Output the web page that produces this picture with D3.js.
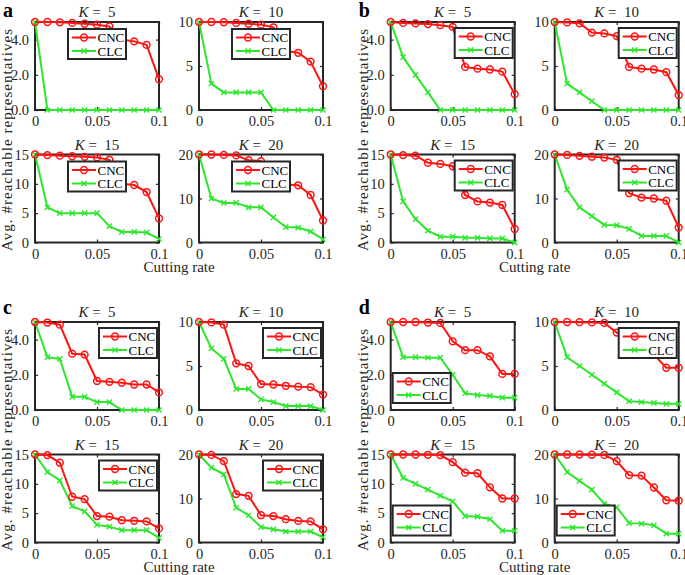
<!DOCTYPE html>
<html>
<head>
<meta charset="utf-8">
<script src="https://cdn.jsdelivr.net/npm/d3@7"></script>
<style>
  body { margin: 0; background: #fff; }
  text { font-family: "Liberation Serif", "Times New Roman", serif; fill: #262626; }
</style>
</head>
<body>
<div id="node"></div>
<script>
// x values shared by every subplot
const cutRate = [0, 0.01, 0.02, 0.03, 0.04, 0.05, 0.06, 0.07, 0.08, 0.09, 0.1];
const kValues = [5, 10, 15, 20];
const panelNames = ["a", "b", "c", "d"];
const seriesNames = ["CNC", "CLC"];

const xTicks = [0, 0.05, 0.1];
const xTickLabels = ["0", "0.05", "0.1"];
const yTicks5 = [0, 2, 4];
const yTicks10 = [0, 5, 10];
const yTicks15 = [0, 5, 10, 15];
const yTicks20 = [0, 10, 20];

// one row per K (5, 10, 15, 20)
const cncA = [
  [5, 5, 4.98, 4.95, 4.9, 4.85, 4.75, 4.0, 3.9, 3.7, 1.75],
  [10, 10, 9.97, 9.9, 9.8, 9.7, 9.4, 6.7, 6.5, 5.5, 2.7],
  [15, 14.9, 14.8, 14.7, 14.6, 14.5, 14.1, 10.0, 9.8, 8.6, 4.1],
  [20, 20, 19.9, 19.8, 18.7, 18.5, 16.0, 13.2, 13, 10.8, 5]
];
const clcA = [
  [5, 0, 0, 0, 0, 0, 0, 0, 0, 0, 0],
  [10, 3, 2, 2, 2, 2, 0, 0, 0, 0, 0],
  [15, 6, 5, 5, 5, 5, 2.8, 1.8, 1.8, 1.7, 0.6],
  [20, 10, 9, 9, 8, 8, 5.7, 3.5, 3.4, 2.5, 0.7]
];
const cncB = [
  [5, 4.95, 4.92, 4.88, 4.82, 4.72, 2.45, 2.35, 2.3, 2.18, 0.9],
  [10, 9.95, 9.85, 8.8, 8.7, 8.4, 4.9, 4.7, 4.6, 4.3, 1.7],
  [15, 14.9, 14.8, 13.6, 13.4, 13.0, 8.1, 7.0, 6.8, 6.4, 2.3],
  [20, 19.9, 19.7, 19.5, 19.3, 18.8, 11.2, 10.2, 10, 9.5, 3.4]
];
const clcB = [
  [5, 3, 2, 1, 0, 0, 0, 0, 0, 0, 0],
  [10, 3, 2, 1, 0, 0, 0, 0, 0, 0, 0],
  [15, 7, 4, 2, 1, 1, 0.8, 0.8, 0.7, 0.7, 0],
  [20, 12, 8, 6, 4, 3.9, 3.1, 1.5, 1.5, 1.5, 0]
];
const cncC = [
  [5, 4.97, 4.85, 3.2, 3.15, 1.65, 1.6, 1.55, 1.45, 1.45, 1.0],
  [10, 9.95, 9.7, 5.3, 5.0, 2.95, 2.9, 2.75, 2.65, 2.6, 1.75],
  [15, 14.9, 13.6, 7.8, 7.4, 4.5, 4.4, 3.8, 3.7, 3.6, 2.4],
  [20, 19.9, 18.5, 11, 10.6, 6.2, 6.0, 5.3, 4.9, 4.8, 3.0]
];
const clcC = [
  [5, 3, 2.9, 0.75, 0.75, 0.45, 0.45, 0, 0, 0, 0],
  [10, 7, 5.8, 2.4, 2.4, 1.2, 0.9, 0.45, 0.45, 0.45, 0],
  [15, 12, 10.6, 6.2, 5.3, 3.0, 2.7, 2.1, 2.1, 2.1, 0.8],
  [20, 17, 15.5, 7.9, 6.2, 3.5, 3.0, 2.5, 2.5, 2.5, 1.2]
];
const cncD = [
  [5, 5, 5, 4.97, 4.95, 3.9, 3.4, 3.4, 3.05, 2.05, 2.05],
  [10, 10, 9.98, 9.95, 9.9, 8.8, 8.3, 8.0, 6.3, 4.8, 4.8],
  [15, 15, 15, 14.95, 14.9, 13.7, 11.9, 11.8, 9.4, 7.5, 7.5],
  [20, 20, 20, 19.95, 19.9, 18.5, 15.3, 15.2, 12.5, 9.6, 9.5]
];
const clcD = [
  [5, 3, 3, 2.97, 2.97, 2.0, 0.95, 0.85, 0.8, 0.7, 0.7],
  [10, 6, 5, 4, 3, 2, 1, 0.9, 0.8, 0.7, 0.7],
  [15, 11, 10, 9, 8, 7, 4.5, 4.4, 4, 2, 2],
  [20, 16, 14, 12, 8.8, 8, 4.4, 4.3, 3.9, 2, 2]
];

const cncAll = [cncA, cncB, cncC, cncD];
const clcAll = [clcA, clcB, clcC, clcD];
const yTicksAll = [yTicks5, yTicks10, yTicks15, yTicks20];

// layout
const width = 685, height = 575;
const plotW = 124, plotH = 88;
const panelOrigin = [{x: 35, y: 22}, {x: 390.7, y: 22}, {x: 35, y: 322}, {x: 390.7, y: 322}];
const subDx = 164, subDy = 132.5;
const red = "#ff1414", green = "#2ee62e", axisColor = "#262626";

// legend placement per panel / subplot
function legendPos(p, k) {
  if (p === 0) return {x: 33, y: 7};
  if (p === 3 && k !== 1) return {x: 2, y: 51};
  return {x: 64, y: 6};
}

var svg = d3.select("#node")
  .append("svg")
  .attr("width", width)
  .attr("height", height);

svg.append("rect").attr("width", width).attr("height", height).attr("fill", "#fff");

var x = d3.scaleLinear().domain([0, 0.1]).range([0, plotW]);

function drawX(g, cx, cy, s) {
  g.append("path")
    .attr("d", `M${cx - s},${cy - s}L${cx + s},${cy + s}M${cx - s},${cy + s}L${cx + s},${cy - s}`)
    .attr("stroke", green).attr("stroke-width", 1.4);
}

panelNames.forEach((name, p) => {
  const o = panelOrigin[p];

  // panel letter
  svg.append("text")
    .attr("x", o.x - 32)
    .attr("y", o.y - (p < 2 ? 5 : 8))
    .attr("font-size", 20)
    .attr("font-weight", "bold")
    .style("fill", "#000")
    .text(name);

  // y label
  svg.append("text")
    .attr("transform", `translate(${o.x - 23},${o.y + 118}) rotate(-90)`)
    .attr("text-anchor", "middle")
    .attr("font-size", 15)
    .attr("textLength", 222)
    .attr("lengthAdjust", "spacing")
    .text("Avg. #reachable representatives");

  // x label
  svg.append("text")
    .attr("x", o.x + (subDx + plotW) / 2)
    .attr("y", o.y + subDy + plotH + 29)
    .attr("text-anchor", "middle")
    .attr("font-size", 15)
    .text("Cutting rate");

  kValues.forEach((K, k) => {
    const gx = o.x + (k % 2) * subDx;
    const gy = o.y + Math.floor(k / 2) * subDy;
    var g = svg.append("g").attr("transform", `translate(${gx},${gy})`);

    var y = d3.scaleLinear().domain([0, K]).range([plotH, 0]);

    // title
    var title = g.append("text")
      .attr("x", plotW / 2)
      .attr("y", -5)
      .attr("text-anchor", "middle")
      .attr("font-size", 15)
      .style("white-space", "pre");
    title.append("tspan").attr("font-style", "italic").text("K");
    title.append("tspan").text(" =  " + K);

    // axes with inner ticks, mirrored on the opposite sides
    g.append("g").attr("transform", `translate(0,${plotH})`)
      .call(d3.axisBottom(x).tickValues(xTicks).tickSize(-3).tickPadding(6)
        .tickFormat((d, i) => xTickLabels[i]));
    g.append("g")
      .call(d3.axisTop(x).tickValues(xTicks).tickSize(-3).tickFormat(""));
    g.append("g")
      .call(d3.axisLeft(y).tickValues(yTicksAll[k]).tickSize(-3).tickPadding(6));
    g.append("g").attr("transform", `translate(${plotW},0)`)
      .call(d3.axisRight(y).tickValues(yTicksAll[k]).tickSize(-3).tickFormat(""));
    g.selectAll(".domain").remove();
    g.selectAll(".tick line").attr("stroke", axisColor).attr("stroke-width", 1.2);
    g.selectAll(".tick text")
      .attr("font-family", "Liberation Serif, serif")
      .attr("font-size", 14.5)
      .attr("fill", axisColor);

    g.append("rect")
      .attr("width", plotW).attr("height", plotH)
      .attr("fill", "none")
      .attr("stroke", axisColor)
      .attr("stroke-width", 2);

    const line = d3.line().x((d, i) => x(cutRate[i])).y(d => y(d));

    // CLC
    const clc = clcAll[p][k];
    g.append("path").datum(clc)
      .attr("d", line)
      .attr("fill", "none").attr("stroke", green).attr("stroke-width", 2);
    clc.forEach((v, i) => drawX(g, x(cutRate[i]), y(v), 2.6));

    // CNC
    const cnc = cncAll[p][k];
    g.append("path").datum(cnc)
      .attr("d", line)
      .attr("fill", "none").attr("stroke", red).attr("stroke-width", 2);
    g.selectAll(".cnc").data(cnc).enter().append("circle")
      .attr("cx", (d, i) => x(cutRate[i]))
      .attr("cy", d => y(d))
      .attr("r", 3.4)
      .attr("fill", "none")
      .attr("stroke", red)
      .attr("stroke-width", 1.5);

    // legend
    const lp = legendPos(p, k);
    var lg = g.append("g").attr("transform", `translate(${lp.x},${lp.y})`);
    lg.append("rect")
      .attr("width", 58).attr("height", 30)
      .attr("fill", "#fff")
      .attr("stroke", axisColor).attr("stroke-width", 2);
    seriesNames.forEach((s, j) => {
      const ly = 8.5 + j * 13.5;
      const col = j === 0 ? red : green;
      lg.append("line")
        .attr("x1", 4).attr("x2", 28).attr("y1", ly).attr("y2", ly)
        .attr("stroke", col).attr("stroke-width", 2);
      if (j === 0) {
        lg.append("circle").attr("cx", 16).attr("cy", ly).attr("r", 3.4)
          .attr("fill", "none").attr("stroke", red).attr("stroke-width", 1.5);
      } else {
        drawX(lg, 16, ly, 2.6);
      }
      lg.append("text")
        .attr("x", 29.5).attr("y", ly + 4.5)
        .attr("font-size", 13)
        .style("fill", "#000")
        .text(s);
    });
  });
});
</script>
</body>
</html>
